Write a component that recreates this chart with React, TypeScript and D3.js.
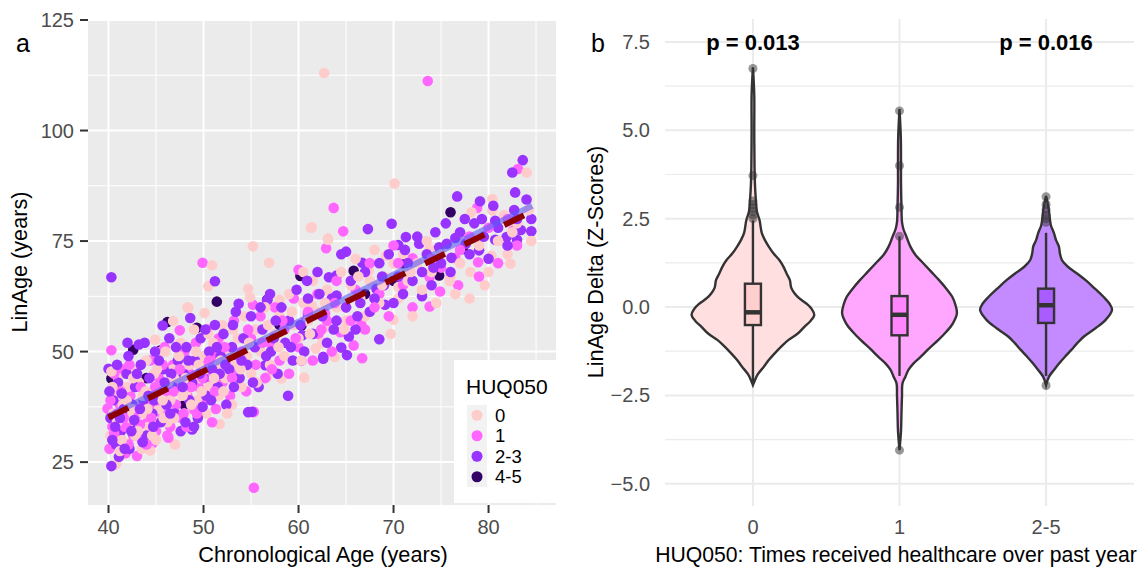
import React from "react";
import * as d3 from "d3";

// ---- panel a: scatter ----
const groups = ["0", "1", "2-3", "4-5"];
const groupColors = ["#FFCCCC", "#FF66FF", "#9933FF", "#330066"];

const pts0: [number, number][] = [
  [62.7, 113.0], [70.1, 88.0], [84.0, 90.5], [80.4, 84.5], [78.2, 81.5], [80.4, 81.9], [81.6, 80.9], [82.3, 69.9],
  [79.6, 65.0], [80.3, 71.7], [77.6, 75.7], [73.8, 73.2], [78.1, 68.0], [63.1, 75.3], [61.3, 78.0], [55.2, 73.8],
  [56.9, 70.1], [67.4, 68.2], [69.2, 71.7], [70.0, 69.9], [75.9, 65.9], [70.0, 57.2], [69.7, 54.0], [63.8, 48.8],
  [60.6, 44.1], [58.2, 43.9], [61.8, 50.7], [59.5, 51.4], [56.7, 44.3], [61.4, 60.4], [63.1, 55.5], [70.5, 64.6],
  [50.9, 69.5], [50.5, 64.8], [61.4, 78.1], [63.1, 75.6], [48.3, 60.0], [50.1, 58.7], [46.8, 56.9], [45.4, 49.9],
  [58.0, 61.7], [54.7, 64.2], [54.9, 62.3], [60.5, 68.0], [51.7, 33.6], [40.8, 24.5], [44.4, 27.6], [48.4, 59.9],
  [44.9, 52.7], [40.2, 31], [40.5, 36], [40.8, 40], [41, 44], [41.3, 33], [41.5, 38], [41.8, 29], [42, 42],
  [42.2, 35], [42.5, 46], [42.8, 31], [43, 38], [43.2, 43], [43.5, 28], [43.7, 36], [44, 48], [44.2, 33],
  [44.5, 40], [44.8, 45], [45, 30], [45.3, 37], [45.6, 42], [46, 50], [46.2, 34], [46.5, 39], [46.8, 46],
  [47, 29], [47.3, 44], [47.6, 52], [48, 36], [48.2, 41], [48.5, 47], [48.8, 33], [49, 55], [49.3, 39],
  [49.6, 44], [50, 49], [50.3, 36], [50.6, 42], [51, 52], [51.3, 46], [51.6, 40], [52, 56], [52.3, 44],
  [52.6, 50], [53, 38], [53.3, 47], [53.6, 53], [54, 42], [54.3, 58], [54.6, 49], [55, 45], [55.5, 55],
  [56, 50], [56.5, 60], [57, 47], [57.5, 54], [58, 58], [58.5, 49], [59, 63], [59.5, 56], [60, 53],
  [60.5, 61], [61, 57], [61.5, 66], [62, 59], [62.5, 52], [63, 64], [64, 60], [64.5, 68], [65, 57],
  [65.5, 65], [66, 71], [66.5, 62], [67, 58], [67.5, 66], [68, 73], [68.5, 61], [69, 67], [70.5, 62],
  [71, 72], [71.5, 66], [72, 58], [72.5, 70], [73, 64], [74, 68], [74.5, 61], [75, 72], [76, 67],
  [77, 70], [78, 62], [79, 74], [80, 68], [81, 75], [82, 72], [83, 79], [84.5, 75],
  [40.3, 45.5], [41.2, 27.5], [42.4, 37], [43.9, 41], [45.8, 35], [47.8, 40], [49.5, 47], [52.1, 41],
  [40.4, 42], [40.9, 34], [41.4, 30], [41.9, 39], [42.6, 44], [43.1, 32], [43.6, 40], [44.1, 37],
  [44.6, 31], [45.1, 46], [45.7, 39], [46.3, 43], [46.9, 35], [47.4, 49], [48.1, 44], [48.7, 38],
  [49.2, 50], [49.8, 41], [50.5, 54], [51.1, 44], [51.8, 48], [52.5, 36], [53.1, 55], [53.9, 46],
  [54.8, 52], [55.6, 43], [56.8, 56], [57.9, 51], [59.3, 59], [60.3, 48], [61.2, 54], [62.8, 61],
  [64.8, 55], [66.3, 67], [68.8, 65], [71.8, 68], [73.5, 75], [76.5, 63], [82.5, 77], [84.2, 82],
];

const pts1: [number, number][] = [
  [73.6, 111.2], [83.1, 91.3], [78.8, 82.5], [82.6, 77.4], [78.9, 70.2], [76.5, 71.2], [76.8, 65.0], [64.7, 77.2],
  [62.9, 73.4], [63.7, 82.5], [60.0, 68.5], [72.0, 71.1], [73.8, 66.8], [74.9, 63.6], [73.8, 60.2], [66.7, 48.5],
  [66.6, 56.1], [64.4, 54.4], [65.8, 51.4], [60.3, 47.9], [55.3, 19.2], [55.3, 36.4], [62.8, 58.6], [62.1, 54.0],
  [49.9, 70.1], [47.5, 54.8], [40.3, 50.3], [55.2, 60.6], [55.2, 36.3], [43.0, 26.4], [44.6, 29.2], [39.9, 37.1],
  [40.1, 28], [40.4, 33], [40.7, 42], [41, 30], [41.2, 38], [41.5, 46], [41.8, 27], [42, 34], [42.3, 40],
  [42.6, 31], [42.9, 44], [43.2, 36], [43.5, 30], [43.8, 41], [44.1, 34], [44.4, 48], [44.7, 38], [45, 32],
  [45.3, 44], [45.6, 36], [45.9, 51], [46.2, 40], [46.5, 33], [46.8, 47], [47.1, 38], [47.4, 43], [47.7, 35],
  [48, 50], [48.3, 40], [48.6, 45], [48.9, 37], [49.2, 52], [49.5, 42], [49.8, 47], [50.1, 39], [50.4, 55],
  [50.7, 44], [51, 49], [51.3, 37], [51.6, 53], [52, 43], [52.4, 48], [52.8, 40], [53.2, 57], [53.6, 45],
  [54, 50], [54.5, 41], [55, 53], [55.5, 47], [56, 58], [56.5, 44], [57, 52], [57.5, 60], [58, 48],
  [58.5, 55], [59, 45], [59.5, 62], [60, 51], [60.8, 57], [61.5, 48], [62, 63], [63, 57], [63.5, 50],
  [64, 66], [65, 60], [66, 64], [67, 55], [67.5, 70], [68.5, 63], [69.5, 58], [70, 74], [71, 65],
  [72, 60], [75, 69], [77, 73], [79, 67], [81, 70], [83, 74],
  [40.6, 31.5], [41.6, 35], [42.1, 29], [43.3, 33.5], [44.9, 42], [46.3, 30.5], [47.9, 36], [50.9, 34],
  [40.2, 39], [40.6, 45], [40.9, 36], [41.3, 41], [41.7, 33], [42.2, 47], [42.8, 37], [43.4, 42],
  [44, 29], [44.5, 35], [45.1, 39], [45.7, 47], [46.2, 31], [46.9, 41], [47.5, 46], [48.2, 33],
  [48.7, 42], [49.3, 36], [49.9, 44], [50.6, 48], [51.2, 41], [52.2, 51], [53, 44], [53.8, 49],
  [54.7, 55], [56.2, 52], [57.2, 46], [58.3, 57], [59.7, 53], [61, 59], [62.4, 55], [63.8, 61],
  [65.5, 57], [68, 60], [70.5, 70], [74, 71], [78, 76], [80, 78], [82, 80],
];

const pts23: [number, number][] = [
  [83.6, 93.3], [82.5, 90.5], [76.7, 85.1], [79.1, 84.0], [84.0, 84.4], [79.3, 80.0], [82.7, 82.0], [83.4, 77.5],
  [84.5, 77.2], [80.7, 75.3], [81.9, 75.9], [83.0, 75.3], [79.0, 72.9], [76.5, 75.7], [74.4, 77.0], [74.8, 73.6],
  [72.7, 74.4], [71.3, 75.9], [70.5, 74.1], [69.8, 78.9], [67.3, 77.7], [65.0, 72.6], [66.7, 70.1], [63.2, 66.8],
  [64.0, 67.2], [73.0, 62.5], [75.6, 74.4], [76.1, 71.2], [77.6, 74.4], [80.7, 79.6], [69.1, 60.6], [68.5, 52.8],
  [65.1, 49.2], [62.6, 48.4], [64.5, 50.9], [65.3, 53.4], [60.4, 53.7], [56.5, 46.9], [55.1, 36.4], [61.0, 58.6],
  [64.0, 62.7], [68.2, 64.2], [40.3, 66.8], [51.2, 65.9], [48.6, 57.6], [45.7, 55.9], [42.0, 52.0], [43.2, 51.6],
  [56.7, 61.6], [53.7, 60.8], [62.6, 48.8], [54.7, 36.3], [40.3, 24.1], [48.8, 32.4], [41.1, 26.2], [40.0, 46.1],
  [40.2, 35], [40.5, 39], [40.8, 29], [41, 43], [41.3, 32], [41.6, 37], [41.9, 45], [42.2, 28], [42.5, 38],
  [42.8, 42], [43.1, 33], [43.4, 47], [43.7, 39], [44, 31], [44.3, 44], [44.6, 36], [44.9, 50], [45.2, 41],
  [45.5, 34], [45.8, 46], [46.1, 38], [46.4, 53], [46.7, 42], [47, 36], [47.3, 48], [47.6, 32], [47.9, 45],
  [48.2, 51], [48.5, 39], [48.8, 43], [49.1, 48], [49.4, 35], [49.7, 53], [50, 44], [50.3, 40], [50.6, 50],
  [50.9, 46], [51.2, 56], [51.5, 42], [51.8, 49], [52.1, 54], [52.4, 38], [52.7, 46], [53, 51], [53.4, 59],
  [53.8, 44], [54.2, 53], [54.6, 47], [55, 58], [55.4, 51], [55.8, 42], [56.2, 55], [56.6, 49], [57, 63],
  [57.4, 53], [57.8, 45], [58.2, 60], [58.6, 52], [59, 57], [59.4, 48], [59.8, 64], [60.2, 56], [60.6, 50],
  [61, 62], [61.5, 54], [62, 68], [62.5, 58], [63, 52], [63.5, 62], [64, 57], [64.5, 72], [65, 60],
  [65.5, 66], [66, 55], [66.5, 61], [67, 68], [67.5, 59], [68, 62], [68.5, 70], [69, 65], [69.5, 72],
  [70, 61], [70.5, 67], [71, 63], [71.5, 70], [72, 66], [72.5, 76], [73, 68], [73.5, 72], [74, 65],
  [75, 70], [75.5, 79], [76, 68], [77, 77], [78, 72], [78.5, 79], [79.5, 76], [80, 71], [81, 78],
  [82, 74], [83, 80], [84.5, 80],
  [40.7, 33], [41.4, 40.5], [42.7, 34.5], [43.6, 29.5], [44.8, 39], [46.6, 45], [48.1, 34], [49.9, 37.5],
  [51.7, 45], [53.2, 42], [57.1, 50], [58.9, 40],
  [40.1, 41], [40.4, 30], [40.9, 47], [41.2, 35], [41.7, 28], [42.1, 49], [42.4, 32], [43, 45],
  [43.3, 37], [43.8, 52], [44.2, 40], [44.7, 33], [45.3, 48], [45.9, 43], [46.5, 36], [47.1, 51],
  [47.8, 42], [48.4, 48], [49, 33], [49.6, 45], [50.2, 55], [50.8, 39], [51.4, 51], [52.3, 47],
  [53.1, 56], [54, 48], [55.2, 43], [56, 60], [57.6, 57], [59.2, 51], [60.9, 66], [62.2, 63],
  [63.7, 55], [66.2, 58], [68.8, 67], [71.2, 73], [74.2, 69], [77.5, 80], [80.5, 83], [82.8, 86],
];

const pts45: [number, number][] = [
  [51.4, 61.3], [60.2, 67.1], [49.3, 55.4], [46.2, 56.7], [42.6, 50.4], [45.5, 50.3], [76.0, 81.5], [77.3, 73.2],
  [65.8, 68.3], [71.0, 70.0], [74.8, 67.2], [60.3, 55.9], [56.7, 61.7], [40.3, 43.9], [41.7, 35.2], [44, 44],
  [48, 38], [53, 48], [58, 56], [67, 63], [70, 66],
];

const groupPoints = [pts0, pts1, pts23, pts45];

// fitted lines: [age start, age end], [LinAge start, LinAge end]
const lmAge = [40, 84.6];
const lmLin = [35.4, 83.0];
const refAge = [40, 84.5];
const refLin = [35.1, 81.6];

const xTicksA = [40, 50, 60, 70, 80];
const yTicksA = [25, 50, 75, 100, 125];

// ---- panel b: violins ----
const cats = ["0", "1", "2-5"];
const violinFill = ["#FFDFDF", "#FFA6FF", "#C38BFF"];
const boxFill = ["#FFCFCF", "#FF85FF", "#A95CFF"];

// [z-score, relative density]
const dens0: [number, number][] = [
  [-2.21, 0], [-2.07, 0.03], [-1.9, 0.075], [-1.69, 0.165], [-1.5, 0.24], [-1.31, 0.33], [-1.1, 0.44],
  [-0.93, 0.54], [-0.75, 0.68], [-0.56, 0.78], [-0.4, 0.87], [-0.23, 0.93], [-0.05, 0.89], [0.1, 0.81],
  [0.25, 0.7], [0.39, 0.63], [0.55, 0.58], [0.76, 0.56], [0.95, 0.51], [1.15, 0.46], [1.33, 0.4],
  [1.52, 0.31], [1.71, 0.24], [1.9, 0.18], [2.09, 0.135], [2.46, 0.1], [2.7, 0.06], [3.0, 0.045],
  [3.5, 0.03], [4.0, 0.024], [5.0, 0.02], [6.0, 0.02], [6.78, 0],
];
const dens1: [number, number][] = [
  [-4.05, 0], [-3.5, 0.023], [-3.0, 0.03], [-2.5, 0.038], [-2.16, 0.045], [-1.97, 0.09], [-1.78, 0.135],
  [-1.6, 0.21], [-1.41, 0.32], [-1.17, 0.45], [-0.93, 0.59], [-0.7, 0.71], [-0.46, 0.81], [-0.18, 0.87],
  [0.05, 0.85], [0.29, 0.8], [0.52, 0.71], [0.76, 0.6], [1.0, 0.48], [1.24, 0.36], [1.48, 0.24],
  [1.71, 0.165], [1.99, 0.105], [2.2, 0.06], [2.4, 0.038], [2.84, 0.03], [3.5, 0.023], [4.0, 0.023],
  [4.8, 0.02], [5.6, 0],
];
const dens2: [number, number][] = [
  [-2.21, 0], [-1.97, 0.045], [-1.78, 0.12], [-1.59, 0.2], [-1.4, 0.29], [-1.22, 0.38], [-1.03, 0.47],
  [-0.84, 0.57], [-0.6, 0.75], [-0.37, 0.9], [-0.08, 1.0], [0.1, 0.96], [0.29, 0.87], [0.52, 0.74],
  [0.76, 0.6], [0.95, 0.47], [1.14, 0.33], [1.33, 0.24], [1.52, 0.21], [1.71, 0.195], [1.9, 0.15],
  [2.09, 0.12], [2.3, 0.075], [2.46, 0.06], [2.8, 0.038], [3.14, 0],
];
const densities = [dens0, dens1, dens2];

// box stats: [whisker low, q1, median, q3, whisker high]
const boxStats = [
  [-2.15, -0.51, -0.15, 0.66, 2.45],
  [-1.95, -0.8, -0.22, 0.31, 2.0],
  [-1.95, -0.45, 0.05, 0.52, 2.1],
];
const outliers = [
  [6.75, 3.72, 3.0, 2.9, 2.8, 2.7, 2.6, 2.5],
  [5.55, 4.0, 2.82, 2.0, -4.05],
  [3.12, 2.9, 2.75, 2.6, 2.5, 2.4, -2.22],
];
const pLabels = [
  { cat: "0", text: "p = 0.013" },
  { cat: "2-5", text: "p = 0.016" },
];
const yTicksB = [-5, -2.5, 0, 2.5, 5, 7.5];
const yMinorB = [-3.75, -1.25, 1.25, 3.75, 6.25];

const FONT = "'Liberation Sans', Arial, sans-serif";

export default function App() {
  // panel a scales
  const xA = d3.scaleLinear().domain([37.84, 87.1]).range([88, 556]);
  const yA = d3.scaleLinear().domain([15.3, 125]).range([505, 20]);
  const xMinorA = [45, 55, 65, 75, 85];
  const yMinorA = [37.5, 62.5, 87.5, 112.5];

  // interleave groups so colours overlap like the original draw order
  const maxLen = d3.max(groupPoints, (g) => g.length) || 0;
  const allPts: { x: number; y: number; g: number }[] = [];
  for (let i = 0; i < maxLen; i++) {
    groupPoints.forEach((g, gi) => {
      if (i < g.length) allPts.push({ x: g[i][0], y: g[i][1], g: gi });
    });
  }

  // panel b scales
  const xB = d3.scalePoint<string>().domain(cats).range([665, 1134]).padding(0.6);
  const yB = d3.scaleLinear().domain([-5.63, 8.15]).range([506, 19]);
  const halfW = d3.scaleLinear().domain([0, 1]).range([0, 0.45 * xB.step()]);

  const violinPath = (dens: [number, number][], cx: number) =>
    d3
      .area<[number, number]>()
      .curve(d3.curveCatmullRom)
      .y((d) => yB(d[0]))
      .x0((d) => cx - halfW(d[1]))
      .x1((d) => cx + halfW(d[1]))(dens) || "";

  const boxW = 16;
  const legendRow = 20.5;

  return (
    <svg width={1140} height={570} style={{ position: "absolute", left: 0, top: 0, background: "#fff" }} fontFamily={FONT}>
      {/* ---------- panel a ---------- */}
      <rect x={88} y={20} width={468} height={485} fill="#EBEBEB" />
      {yMinorA.map((v) => (
        <line key={"ym" + v} x1={88} x2={556} y1={yA(v)} y2={yA(v)} stroke="#fff" strokeWidth={1} />
      ))}
      {xMinorA.map((v) => (
        <line key={"xm" + v} x1={xA(v)} x2={xA(v)} y1={20} y2={505} stroke="#fff" strokeWidth={1} />
      ))}
      {yTicksA.map((v) => (
        <line key={"yM" + v} x1={88} x2={556} y1={yA(v)} y2={yA(v)} stroke="#fff" strokeWidth={2} />
      ))}
      {xTicksA.map((v) => (
        <line key={"xM" + v} x1={xA(v)} x2={xA(v)} y1={20} y2={505} stroke="#fff" strokeWidth={2} />
      ))}
      <g>
        {allPts.map((p, i) => (
          <circle key={i} cx={xA(p.x)} cy={yA(p.y)} r={5.3} fill={groupColors[p.g]} />
        ))}
      </g>
      <line x1={xA(lmAge[0])} x2={xA(lmAge[1])} y1={yA(lmLin[0])} y2={yA(lmLin[1])}
        stroke="#5A5AF5" strokeOpacity={0.6} strokeWidth={6} />
      <line x1={xA(refAge[0])} x2={xA(refAge[1])} y1={yA(refLin[0])} y2={yA(refLin[1])}
        stroke="#8B0000" strokeWidth={6} strokeDasharray="22 22" />
      {/* axes a */}
      {yTicksA.map((v) => (
        <g key={"yt" + v}>
          <line x1={80} x2={88} y1={yA(v)} y2={yA(v)} stroke="#333" strokeWidth={2} />
          <text x={74} y={yA(v)} dy="0.35em" textAnchor="end" fontSize={20} fill="#4D4D4D">{v}</text>
        </g>
      ))}
      {xTicksA.map((v) => (
        <g key={"xt" + v}>
          <line x1={xA(v)} x2={xA(v)} y1={505} y2={513} stroke="#333" strokeWidth={2} />
          <text x={xA(v)} y={534} textAnchor="middle" fontSize={20} fill="#4D4D4D">{v}</text>
        </g>
      ))}
      <text x={323} y={562} textAnchor="middle" fontSize={21.7} fill="#000">Chronological Age (years)</text>
      <text transform="translate(27,262) rotate(-90)" textAnchor="middle" fontSize={21.7} fill="#000">LinAge (years)</text>
      <text x={16} y={52} fontSize={25} fill="#000">a</text>
      {/* legend */}
      <rect x={454} y={360} width={102} height={143} fill="#fff" />
      <text x={466} y={394} fontSize={21} fill="#000">HUQ050</text>
      {groups.map((g, i) => (
        <g key={"lg" + g} transform={`translate(0,${405 + i * legendRow})`}>
          <rect x={467} y={0} width={20} height={legendRow} fill="#F2F2F2" />
          <circle cx={477} cy={legendRow / 2} r={5.5} fill={groupColors[i]} />
          <text x={495} y={legendRow / 2} dy="0.35em" fontSize={18.5} fill="#000">{g}</text>
        </g>
      ))}

      {/* ---------- panel b ---------- */}
      {yMinorB.map((v) => (
        <line key={"bym" + v} x1={665} x2={1134} y1={yB(v)} y2={yB(v)} stroke="#EBEBEB" strokeWidth={1.2} />
      ))}
      {yTicksB.map((v) => (
        <line key={"byM" + v} x1={665} x2={1134} y1={yB(v)} y2={yB(v)} stroke="#EBEBEB" strokeWidth={2} />
      ))}
      {cats.map((c) => (
        <line key={"bx" + c} x1={xB(c)!} x2={xB(c)!} y1={19} y2={506} stroke="#EBEBEB" strokeWidth={2} />
      ))}
      {cats.map((c, i) => {
        const cx = xB(c)!;
        const [lo, q1, med, q3, hi] = boxStats[i];
        return (
          <g key={"v" + c}>
            <path d={violinPath(densities[i], cx)} fill={violinFill[i]} stroke="#333" strokeWidth={2.4} />
            <line x1={cx} x2={cx} y1={yB(hi)} y2={yB(lo)} stroke="#333" strokeWidth={2.4} />
            <rect x={cx - boxW / 2} y={yB(q3)} width={boxW} height={yB(q1) - yB(q3)}
              fill={boxFill[i]} stroke="#333" strokeWidth={2.4} />
            <line x1={cx - boxW / 2} x2={cx + boxW / 2} y1={yB(med)} y2={yB(med)} stroke="#333" strokeWidth={4.5} />
            {outliers[i].map((o, j) => (
              <circle key={j} cx={cx} cy={yB(o)} r={4.5} fill="#333" fillOpacity={0.5} />
            ))}
          </g>
        );
      })}
      {yTicksB.map((v) => (
        <text key={"byt" + v} x={650} y={yB(v)} dy="0.35em" textAnchor="end" fontSize={20} fill="#4D4D4D">
          {d3.format(".1f")(v)}
        </text>
      ))}
      {cats.map((c) => (
        <text key={"bxt" + c} x={xB(c)!} y={534} textAnchor="middle" fontSize={20} fill="#4D4D4D">{c}</text>
      ))}
      {pLabels.map((p) => (
        <text key={p.text} x={xB(p.cat)!} y={yB(7.5)} dy="0.35em" textAnchor="middle" fontSize={22}
          fontWeight="bold" fill="#000">{p.text}</text>
      ))}
      <text x={896} y={562} textAnchor="middle" fontSize={21.2} fill="#000">
        HUQ050: Times received healthcare over past year
      </text>
      <text transform="translate(603,262) rotate(-90)" textAnchor="middle" fontSize={21.7} fill="#000">
        LinAge Delta (Z-Scores)
      </text>
      <text x={591} y={52} fontSize={25} fill="#000">b</text>
    </svg>
  );
}
